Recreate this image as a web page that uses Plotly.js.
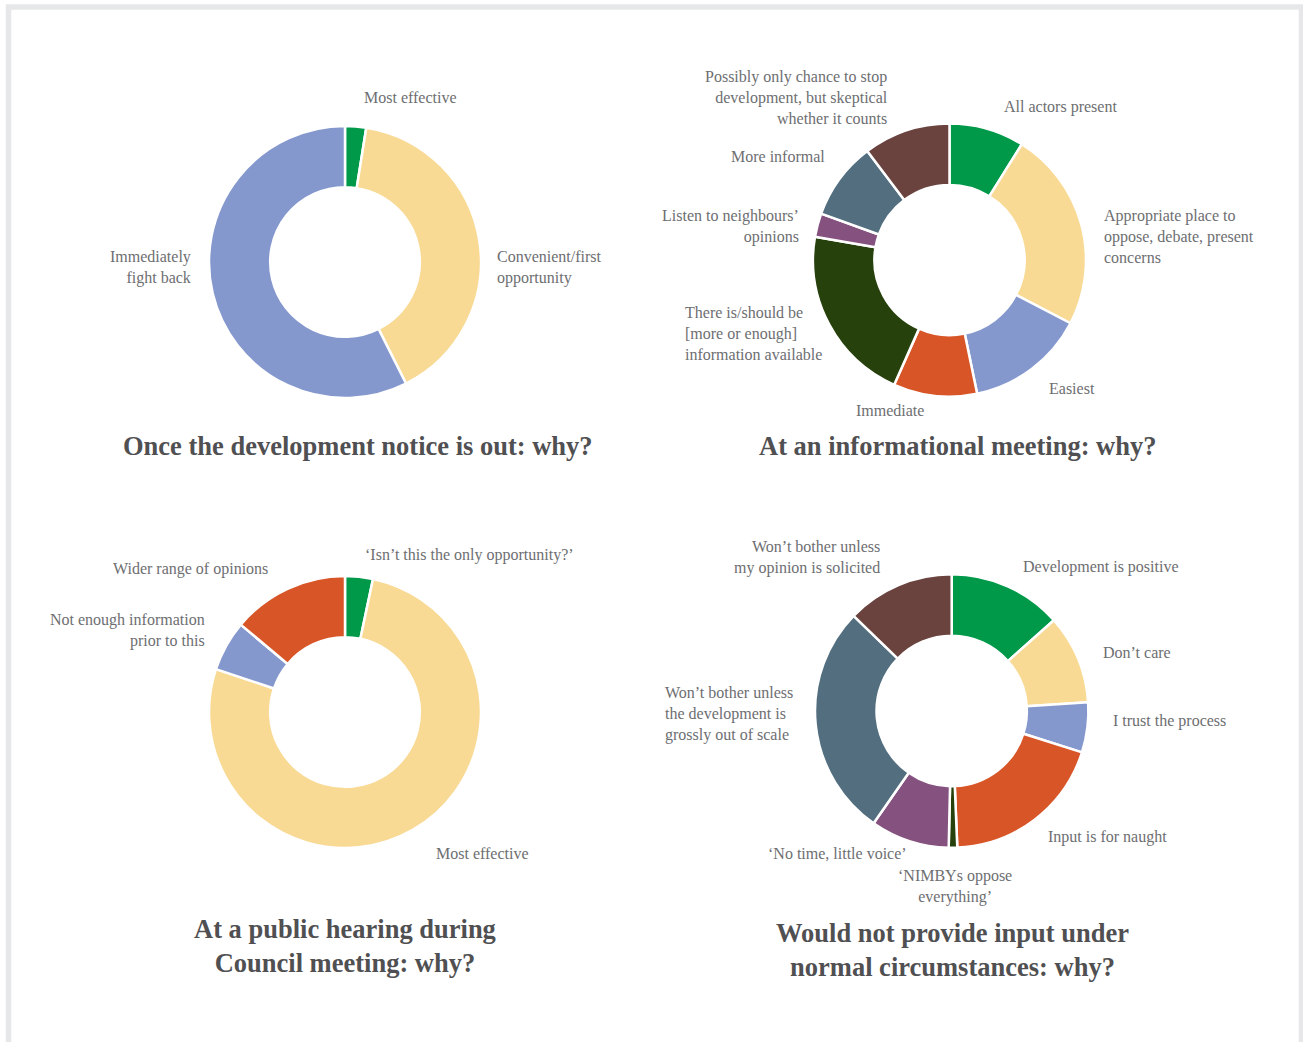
<!DOCTYPE html>
<html><head><meta charset="utf-8">
<script src="https://cdn.plot.ly/plotly-3.0.1.min.js"></script>
<style>html,body{margin:0;padding:0;background:#fff}#chart{width:1303px;height:1042px}</style>
</head><body><div id="chart"></div>
<script>
// ---- data ----
const noticeLabels = ['Most effective', 'Convenient/first<br>opportunity', 'Immediately<br>fight back'];
const noticeValues = [2.5, 40.1, 57.4];

const infoLabels = ['All actors present', 'Appropriate place to<br>oppose, debate, present<br>concerns', 'Easiest', 'Immediate',
  'There is/should be<br>[more or enough]<br>information available', 'Listen to neighbours’<br>opinions', 'More informal',
  'Possibly only chance to stop<br>development, but skeptical<br>whether it counts'];
const infoValues = [8.9, 23.8, 14.1, 9.9, 21.1, 2.8, 9.2, 10.3];

const hearingLabels = ['‘Isn’t this the only opportunity?’', 'Most effective', 'Not enough information<br>prior to this', 'Wider range of opinions'];
const hearingValues = [3.3, 76.8, 6.0, 13.9];

const noInputLabels = ['Development is positive', 'Don’t care', 'I trust the process', 'Input is for naught',
  '‘NIMBYs oppose<br>everything’', '‘No time, little voice’', 'Won’t bother unless<br>the development is<br>grossly out of scale',
  'Won’t bother unless<br>my opinion is solicited'];
const noInputValues = [13.4, 10.5, 5.9, 19.4, 1.0, 9.3, 27.5, 12.7];

const chartTitles = ['Once the development notice is out: why?', 'At an informational meeting: why?',
  'At a public hearing during<br>Council meeting: why?', 'Would not provide input under<br>normal circumstances: why?'];

// ---- styles ----
const GREEN = '#009849', YELLOW = '#F8DA95', BLUE = '#8598CE', ORANGE = '#D75527',
      DKGREEN = '#27410D', PURPLE = '#85527F', SLATE = '#536F7F', BROWN = '#6A433F';
const noticeColors = [GREEN, YELLOW, BLUE];
const infoColors = [GREEN, YELLOW, BLUE, ORANGE, DKGREEN, PURPLE, SLATE, BROWN];
const hearingColors = [GREEN, YELLOW, BLUE, ORANGE];
const noInputColors = [GREEN, YELLOW, BLUE, ORANGE, DKGREEN, PURPLE, SLATE, BROWN];

const W = 1303, H = 1042;
const px = x => x / W, py = y => 1 - y / H;
function dom(cx, cy, r) { return {x: [px(cx - r), px(cx + r)], y: [py(cy + r), py(cy - r)]}; }

function pie(labels, values, colors, domain) {
  return {type: 'pie', labels: labels, values: values, hole: 0.55, sort: false, direction: 'clockwise', rotation: 0,
    textinfo: 'none', marker: {colors: colors, line: {color: '#ffffff', width: 2.5}}, domain: domain,
    showlegend: false, hoverinfo: 'label+percent'};
}

const data = [
  pie(noticeLabels, noticeValues, noticeColors, dom(345, 262, 136)),
  pie(infoLabels, infoValues, infoColors, dom(949.5, 260, 136.5)),
  pie(hearingLabels, hearingValues, hearingColors, dom(345, 712, 136)),
  pie(noInputLabels, noInputValues, noInputColors, dom(951.7, 711, 136.7))
];

// label placements: [x, y, anchor] in page pixels, parallel to the label arrays
const noticePos = [[362, 98, 'left'], [495, 267.5, 'left'], [193, 267.5, 'right']];
const infoPos = [[1002, 107, 'left'], [1102, 236, 'left'], [1047, 388, 'left'], [890, 410, 'center'],
  [683, 333, 'left'], [801, 226.5, 'right'], [827, 157, 'right'], [890, 97, 'right']];
const hearingPos = [[363, 555, 'left'], [434, 853, 'left'], [207, 630.5, 'right'], [270, 569, 'right']];
const noInputPos = [[1021, 567, 'left'], [1101, 652, 'left'], [1111, 721, 'left'], [1046, 837, 'left'],
  [955, 886.5, 'center'], [838, 853, 'center'], [663, 714, 'left'], [882, 557.5, 'right']];
const titlePos = [[358, 446], [958, 446], [345, 946], [952, 950]];

const LABEL_FONT = {family: 'Liberation Serif, serif', size: 16, color: '#6d6e71'};
const TITLE_FONT = {family: 'Liberation Serif, serif', size: 26.5, color: '#505052', weight: 'bold'};

const annotations = [];
function addLabels(labels, pos) {
  labels.forEach((t, i) => {
    const p = pos[i];
    annotations.push({text: t, xref: 'paper', yref: 'paper', x: px(p[0]), y: py(p[1]), xanchor: p[2], yanchor: 'middle',
      align: p[2], showarrow: false, font: LABEL_FONT});
  });
}
addLabels(noticeLabels, noticePos);
addLabels(infoLabels, infoPos);
addLabels(hearingLabels, hearingPos);
addLabels(noInputLabels, noInputPos);
chartTitles.forEach((t, i) => {
  annotations.push({text: '<b>' + t + '</b>', xref: 'paper', yref: 'paper', x: px(titlePos[i][0]), y: py(titlePos[i][1]),
    xanchor: 'center', yanchor: 'middle', align: 'center', showarrow: false, font: TITLE_FONT});
});

const layout = {
  width: W, height: H, autosize: false, margin: {l: 0, r: 0, t: 0, b: 0},
  paper_bgcolor: '#ffffff', plot_bgcolor: '#ffffff', showlegend: false,
  annotations: annotations,
  shapes: [{type: 'rect', xref: 'paper', yref: 'paper', x0: px(8.5), x1: px(1301.5), y0: py(1060), y1: py(7),
    line: {color: '#e6e7e8', width: 5.5}, fillcolor: 'rgba(0,0,0,0)'}]
};

Plotly.newPlot('chart', data, layout, {displayModeBar: false, staticPlot: true});
</script>
</body></html>
